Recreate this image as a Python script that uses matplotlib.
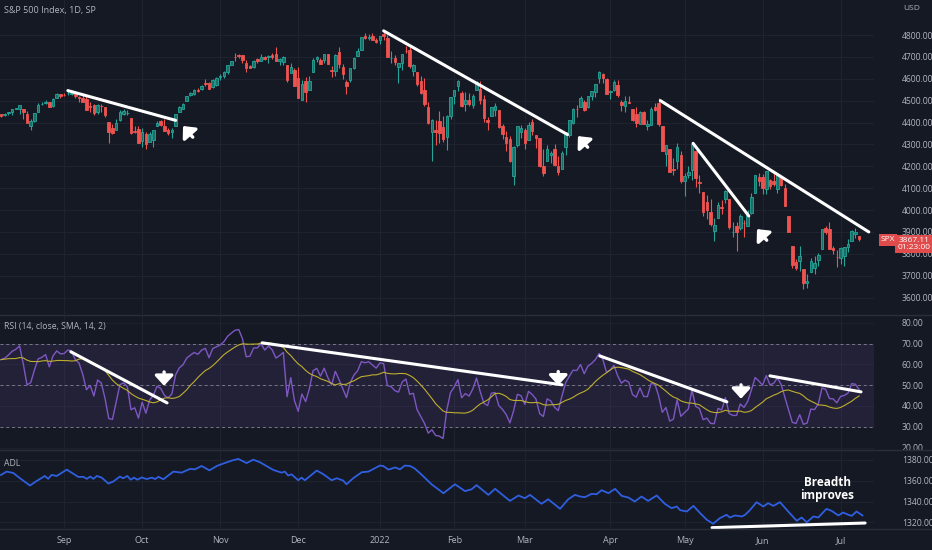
import numpy as np
import matplotlib
matplotlib.use("Agg")
import matplotlib.pyplot as plt

plt.rcParams['font.family'] = ['Open Sans', 'DejaVu Sans']

# ---------------- DATA ----------------
# daily bars, Aug 9 2021 .. Jul 11 2022 (bar index 0..231)
opens = [4437,4435,4442,4446,4464,4462,4462,4440,4382,4406,4450,4484,4490,4493,4474,4514,4529,
         4528,4534,4532,4536,4518,4514,4506,4474,4479,4447,4477,4469,4403,4375,4368,4410,4438,4443,4420,4362,4371,
         4317,4348,4310,4319,4384,4407,4385,4368,4358,4386,4448,4464,4497,4524,4532,4547,4553,4579,4581,4563,4573,
         4610,4613,4630,4662,4700,4707,4707,4670,4659,4655,4689,4680,4701,4700,4708,4712,4679,4676,4664,4628,4641,
         4603,4505,4589,4548,4631,4690,4688,4688,4711,4642,4637,4724,4652,4587,4595,4650,4703,4733,4795,4788,4795,4776,
         4778,4804,4787,4693,4697,4656,4670,4729,4733,4637,4632,4588,4548,4471,4357,4367,4409,4380,4336,4431,
         4519,4566,4535,4483,4505,4480,4548,4554,4506,4412,4430,4458,4456,4385,4332,4325,4155,4299,4355,
         4364,4322,4401,4342,4328,4202,4224,4253,4280,4203,4188,4288,4345,4398,4463,4469,4494,4470,4523,4541,4603,4624,4599,
         4541,4547,4573,4494,4475,4494,4462,4437,4394,4449,4385,4390,4473,4489,4385,4256,4279,4187,4222,4253,
         4131,4159,4181,4271,4129,4082,4035,3990,3903,3963,4013,4052,4051,3900,3927,3920,3942,3929,3985,4077,4151,
         4149,4096,4137,4134,4097,4148,4102,3974,3838,3763,3765,3729,3666,3715,3733,3774,3820,3920,3913,3826,3786,
         3782,3792,3831,3859,3889,3880]
highs = [4439,4445,4449,4461,4468,4480,4462,4454,4418,4443,4489,4492,4501,4496,4513,4537,4532,
         4537,4545,4542,4536,4521,4529,4520,4492,4485,4486,4485,4471,4403,4395,4416,4457,4464,4457,4422,4386,4383,
         4375,4356,4359,4366,4407,4412,4415,4375,4373,4439,4475,4487,4520,4540,4551,4560,4572,4598,4584,4598,4608,
         4620,4636,4664,4683,4718,4713,4708,4685,4664,4688,4697,4714,4702,4708,4718,4744,4696,4704,4665,4673,4647,
         4653,4595,4608,4612,4694,4705,4695,4713,4711,4660,4712,4743,4666,4593,4651,4698,4741,4791,4807,4805,4809,4787,
         4797,4819,4798,4725,4708,4673,4714,4749,4745,4666,4632,4612,4603,4495,4418,4411,4453,4428,4433,4516,
         4550,4595,4542,4540,4533,4531,4590,4588,4527,4426,4472,4490,4456,4394,4362,4339,4295,4385,4388,
         4375,4401,4417,4343,4328,4277,4299,4269,4303,4247,4271,4358,4412,4465,4481,4522,4501,4520,4546,4575,4637,4627,4604,
         4548,4593,4594,4504,4521,4521,4464,4471,4453,4453,4411,4471,4489,4512,4386,4299,4279,4240,4308,4270,
         4170,4200,4308,4271,4158,4082,4068,4049,3964,4039,4046,4090,4051,3945,3944,3981,3955,3999,4076,4158,4169,
         4166,4177,4143,4169,4164,4150,4119,3974,3838,3778,3837,3729,3707,3779,3790,3802,3913,3928,3945,3836,3818,
         3829,3832,3870,3910,3919,3881]
lows = [4424,4430,4436,4435,4461,4438,4417,4398,4367,4403,4450,4482,4486,4469,4471,4513,4514,
        4522,4524,4526,4513,4493,4493,4457,4446,4435,4438,4447,4427,4305,4346,4367,4407,4435,4436,4347,4353,4306,
        4289,4279,4309,4290,4383,4386,4360,4342,4330,4386,4448,4461,4497,4522,4526,4538,4547,4569,4551,4559,4565,
        4595,4604,4621,4663,4681,4695,4670,4630,4648,4651,4673,4680,4685,4673,4691,4682,4662,4664,4586,4626,4565,
        4511,4505,4496,4548,4631,4675,4666,4670,4667,4606,4612,4650,4600,4531,4584,4645,4703,4733,4780,4778,4775,4765,
        4758,4775,4700,4671,4663,4582,4638,4718,4651,4614,4568,4530,4474,4395,4223,4297,4305,4309,4273,4414,
        4484,4545,4471,4451,4474,4465,4548,4484,4402,4364,4430,4430,4374,4327,4268,4221,4115,4287,4328,
        4280,4322,4345,4284,4199,4157,4224,4215,4202,4162,4187,4252,4336,4393,4425,4469,4455,4466,4501,4517,4582,4581,4531,
        4507,4546,4515,4451,4450,4487,4408,4381,4393,4392,4367,4390,4455,4384,4268,4200,4175,4162,4189,4125,
        4063,4145,4137,4107,4077,3975,3958,3928,3859,3963,3984,4033,3912,3877,3811,3910,3875,3925,3984,4077,4111,
        4074,4074,4097,4110,4080,4111,4017,3900,3734,3724,3723,3639,3643,3715,3710,3743,3821,3889,3820,3799,3738,
        3752,3743,3809,3859,3874,3858]
closes = [4432,4437,4448,4461,4468,4480,4448,4400,4406,4442,4480,4486,4496,4470,4509,4529,4523,
          4524,4537,4535,4520,4514,4493,4459,4469,4443,4481,4474,4433,4358,4354,4396,4449,4455,4443,4353,4359,4308,
          4357,4300,4346,4364,4400,4391,4361,4351,4364,4438,4471,4486,4520,4536,4550,4545,4566,4575,4552,4596,4605,
          4614,4631,4661,4680,4698,4702,4685,4647,4649,4683,4683,4701,4689,4705,4698,4683,4691,4701,4595,4655,4567,
          4513,4577,4538,4592,4687,4701,4667,4712,4669,4634,4710,4669,4621,4568,4649,4697,4726,4791,4786,4793,4779,4766,
          4797,4794,4701,4696,4677,4670,4713,4726,4659,4663,4577,4533,4483,4398,4410,4356,4350,4327,4432,4516,
          4547,4589,4477,4501,4484,4522,4587,4504,4419,4402,4471,4475,4380,4349,4305,4226,4289,4385,4374,
          4306,4387,4363,4329,4201,4171,4278,4260,4204,4173,4262,4358,4412,4463,4461,4512,4456,4520,4543,4576,4632,4602,4530,
          4546,4583,4525,4481,4500,4488,4413,4397,4447,4393,4392,4462,4459,4394,4272,4296,4175,4184,4288,4132,
          4155,4175,4300,4147,4123,3991,4001,3935,3930,4024,4008,4089,3924,3901,3901,3974,3941,3979,4058,4158,4132,
          4101,4177,4109,4121,4161,4116,4018,3901,3750,3735,3790,3667,3675,3765,3760,3796,3912,3900,3822,3819,3785,
          3825,3831,3845,3903,3899,3867]
# closes before the window (Jun 25 .. Aug 6 2021), only for the RSI warm-up
warmup_closes = [4281,4291,4292,4298,4320,4352,4344,4358,4321,4370,4385,4369,4374,4360,4327,
                 4258,4323,4359,4367,4412,4422,4401,4401,4419,4395,4387,4423,4403,4429,4437]

# ADL readings (bar position, value)
adl_pos = [0.0,1.5,3.3,5.1,7.8,9.6,11.8,12.7,13.6,15.0,17.7,20.8,22.2,23.1,24.0,24.9,25.8,27.1,28.9,30.2,
           32.0,32.9,34.0,34.9,35.8,36.7,37.9,39.2,40.6,41.5,42.4,43.7,46.4,48.6,50.9,52.2,54.0,56.1,58.1,59.4,
           60.7,62.1,63.9,66.1,67.9,69.7,73.3,75.5,76.4,77.3,78.2,80.0,80.9,81.8,85.0,86.8,89.0,90.4,92.1,93.0,
           94.8,97.1,98.9,102.0,102.9,104.3,106.1,107.4,108.7,110.1,111.4,113.2,115.9,119.1,122.2,124.9,126.7,128.0,
           131.2,133.0,137.0,139.3,141.0,142.4,145.5,147.3,150.5,152.7,154.5,155.9,157.2,159.0,160.3,161.7,163.5,
           165.3,167.1,168.9,170.6,172.4,174.2,176.5,178.7,180.5,181.9,182.8,184.6,186.4,188.2,190.0,191.7,193.5,
           195.3,196.2,197.6,199.4,200.3,201.6,203.4,205.2,206.5,207.9,209.7,211.9,214.2,215.5,216.9,218.7,220.0,
           222.2,223.6,225.4,226.7,228.1,229.0,230.3,231.9]
adl_val = [1365.6,1368.8,1367.5,1362.4,1355.4,1359.8,1364.6,1361.8,1365.6,1364.6,1370.7,1363.7,1363.7,1361.8,1364.0,1361.8,1364.6,1363.0,1357.3,1359.2,
           1364.0,1362.4,1364.6,1361.0,1363.0,1361.0,1363.2,1361.6,1363.0,1361.6,1363.8,1361.4,1368.8,1367.8,1371.4,1371.0,1374.2,1370.0,1374.2,1376.0,
           1377.6,1379.4,1381.0,1377.0,1380.3,1377.8,1370.4,1367.8,1368.8,1365.0,1366.2,1360.5,1363.0,1360.5,1369.8,1366.2,1360.5,1362.4,1360.2,1356.6,
           1362.4,1368.2,1368.8,1374.6,1374.2,1370.7,1372.8,1371.0,1374.6,1374.2,1371.7,1365.9,1356.6,1348.0,1356.6,1350.0,1351.8,1355.8,
           1346.4,1352.2,1340.6,1345.8,1343.2,1346.4,1337.8,1342.2,1333.0,1342.2,1346.4,1344.8,1344.2,1347.4,1347.0,1350.9,1348.0,
           1352.2,1345.4,1343.8,1340.0,1344.8,1340.6,1345.8,1337.8,1333.6,1335.2,1331.7,1330.4,1335.8,1328.8,1322.4,1318.6,1324.0,
           1327.2,1324.6,1326.6,1325.6,1327.2,1331.7,1339.4,1335.2,1338.4,1335.8,1339.4,1330.4,1321.4,1324.6,1320.0,1325.6,1324.6,
           1332.9,1331.0,1326.6,1329.4,1327.2,1326.2,1330.4,1326.6]

month_bars = [17, 38, 59, 80, 102, 122, 141, 164, 184, 205, 226]
month_labels = ["Sep", "Oct", "Nov", "Dec", "2022", "Feb", "Mar", "Apr", "May", "Jun", "Jul"]

price_ticks = [3600, 3700, 3800, 3900, 4000, 4100, 4200, 4300, 4400, 4500, 4600, 4700, 4800]
rsi_ticks = [20, 30, 40, 50, 60, 70, 80]
adl_ticks = [1320, 1340, 1360, 1380]

# hand-drawn annotations (bar, value)
price_trend = [((18, 4546), (47, 4410)), ((103, 4819), (152.5, 4345)),
               ((177.5, 4500), (233.6, 3900)), ((186.3, 4305), (201.3, 3973))]
price_arrows = [(49.0, 4384), (155.3, 4338), (203.5, 3913)]
rsi_trend = [((18.8, 66.1), (44.7, 41.5)), ((70.3, 70.4), (151.0, 50.2)),
             ((161.2, 64.1), (195.4, 42.0)), ((207.0, 54.5), (231.5, 46.8))]
rsi_arrows = [(43.9, 49.7), (150.0, 49.9), (199.2, 43.5)]
adl_trend = ((191.4, 1314.8), (232.6, 1319.3))

last_price = "3867.11"
countdown = "01:23:00"

# ---------------- RSI (14, RMA) + SMA 14 ----------------
allc = np.array(warmup_closes + closes, dtype=float)
d = np.diff(allc)
up = np.where(d > 0, d, 0.0)
dn = np.where(d < 0, -d, 0.0)
n = 14
au = np.full(len(d), np.nan); ad = np.full(len(d), np.nan)
au[n-1] = up[:n].mean(); ad[n-1] = dn[:n].mean()
for i in range(n, len(d)):
    au[i] = (au[i-1]*(n-1) + up[i]) / n
    ad[i] = (ad[i-1]*(n-1) + dn[i]) / n
rsi_all = 100 - 100/(1 + au/ad)
rsi_all = np.concatenate([[np.nan], rsi_all])
sma_all = np.full(len(rsi_all), np.nan)
for i in range(len(rsi_all)):
    w = rsi_all[i-13:i+1] if i >= 13 else None
    if w is not None and not np.isnan(w).any():
        sma_all[i] = w.mean()
k = len(warmup_closes)
rsi = rsi_all[k:]
rsi_ma = sma_all[k:]

# ---------------- STYLE ----------------
BG = '#151924'
GRID = '#1f2330'
TXT = '#b2b5be'
UP_E = '#26a69a'; UP_F = '#1c6f67'
DN = '#ef5350'
W, H = 932, 550

fig = plt.figure(figsize=(W/100, H/100), dpi=100, facecolor=BG)
x_r = 874/W
ax1 = fig.add_axes([0, 1-314/H, x_r, 314/H])
ax2 = fig.add_axes([0, 1-449/H, x_r, 134/H])
ax3 = fig.add_axes([0, 1-528/H, x_r, 78/H])

xs = np.arange(len(closes))
xlim = (-0.27, 235.0)

for ax in (ax1, ax2, ax3):
    ax.set_facecolor(BG)
    ax.set_xlim(*xlim)
    for s in ax.spines.values():
        s.set_visible(False)
    ax.yaxis.tick_right()
    ax.tick_params(axis='y', length=0, pad=20, labelsize=6.2, labelcolor=TXT)
    ax.tick_params(axis='x', length=0)
    for b in month_bars:
        ax.axvline(b, color=GRID, lw=0.8, zorder=0)

# price pane
ax1.set_ylim(3525, 4960)
ax1.set_yticks(price_ticks)
ax1.set_yticklabels([f"{v:.2f}" for v in price_ticks])
for v in price_ticks:
    ax1.axhline(v, color=GRID, lw=0.8, zorder=0)
ax1.set_xticks([])
o = np.array(opens, float); c = np.array(closes, float)
h = np.array(highs, float); l = np.array(lows, float)
isup = c >= o
cols_e = np.where(isup, UP_E, DN)
cols_f = np.where(isup, UP_F, DN)
ax1.vlines(xs, l, h, colors=cols_e, lw=0.8, zorder=2)
body_b = np.minimum(o, c)
body_h = np.maximum(np.abs(c - o), 2.0)
ax1.bar(xs, body_h, bottom=body_b, width=0.68, color=cols_f, edgecolor=cols_e, linewidth=0.6, zorder=3)
for (p0, p1) in price_trend:
    ax1.plot([p0[0], p1[0]], [p0[1], p1[1]], color='white', lw=2.2, solid_capstyle='round', zorder=5, clip_on=False)
for (bx, py) in price_arrows:
    ax1.annotate('', xy=(bx, py), xytext=(7, -8), textcoords='offset points',
                 arrowprops=dict(arrowstyle='-|>,head_width=0.55,head_length=0.6', color='white', lw=2.4,
                                 shrinkA=0, shrinkB=0), zorder=6)

# RSI pane
ax2.set_ylim(19.3, 83.8)
ax2.set_yticks(rsi_ticks)
ax2.set_yticklabels([f"{v:.2f}" for v in rsi_ticks])
ax2.set_xticks([])
for v in rsi_ticks:
    ax2.axhline(v, color=GRID, lw=0.6, zorder=0)
ax2.axhspan(30, 70, color='#7e57c2', alpha=0.13, lw=0, zorder=0.5)
for v in (70, 50, 30):
    ax2.axhline(v, color='#787b86', lw=0.7, dashes=(3, 3), zorder=1)
ax2.plot(xs, rsi, color='#7e57c2', lw=1.0, zorder=3)
ax2.plot(xs, rsi_ma, color='#bfae2e', lw=0.8, zorder=3)
for (p0, p1) in rsi_trend:
    ax2.plot([p0[0], p1[0]], [p0[1], p1[1]], color='white', lw=2.2, solid_capstyle='round', zorder=5)
for (bx, ry) in rsi_arrows:
    ax2.annotate('', xy=(bx, ry), xytext=(0, 10), textcoords='offset points',
                 arrowprops=dict(arrowstyle='-|>,head_width=0.55,head_length=0.6', color='white', lw=2.4,
                                 shrinkA=0, shrinkB=0), zorder=6)

# ADL pane
ax3.set_ylim(1314.5, 1389.6)
ax3.set_yticks(adl_ticks)
ax3.set_yticklabels([f"{v:.2f}" for v in adl_ticks])
for v in adl_ticks:
    ax3.axhline(v, color=GRID, lw=0.8, zorder=0)
ax3.plot(adl_pos, adl_val, color='#2f5fe0', lw=1.3, zorder=3)
ax3.plot([adl_trend[0][0], adl_trend[1][0]], [adl_trend[0][1], adl_trend[1][1]], color='white', lw=2.2,
         solid_capstyle='round', zorder=5, clip_on=False)
ax3.text(222.5, 1352, "Breadth\nimproves", color='white', fontsize=8.5, fontweight='bold',
         ha='center', va='center', linespacing=1.05, zorder=6)
ax3.set_xticks(month_bars)
ax3.set_xticklabels(month_labels)
ax3.tick_params(axis='x', length=0, pad=6, labelsize=6.5, labelcolor=TXT)

# pane separators
for yy in (314.5, 449.5, 528.5):
    fig.add_artist(plt.Line2D([0, 1], [1-yy/H, 1-yy/H], color='#2a2e39', lw=1.0))

# headers
fig.text(4/W, 1-11/H, "S&P 500 Index, 1D, SP", color=TXT, fontsize=6.5, va='center', ha='left')
fig.text(903/W, 1-9/H, "USD", color=TXT, fontsize=6, va='center', ha='left')
fig.text(4/W, 1-326/H, "RSI (14, close, SMA, 14, 2)", color=TXT, fontsize=6.2, va='center', ha='left')
fig.text(4/W, 1-463/H, "ADL", color=TXT, fontsize=6.2, va='center', ha='left')

# last price labels
fig.text(888/W, 1-240/H, "SPX", color='white', fontsize=6, va='center', ha='center',
         bbox=dict(boxstyle='square,pad=0.25', fc='#e04b4b', ec='none'))
fig.text(914/W, 1-244/H, last_price + "\n" + countdown, color='white', fontsize=6, va='center', ha='center',
         linespacing=1.15, bbox=dict(boxstyle='square,pad=0.25', fc='#e04b4b', ec='none'))

fig.savefig("out.png", dpi=100, facecolor=BG)
